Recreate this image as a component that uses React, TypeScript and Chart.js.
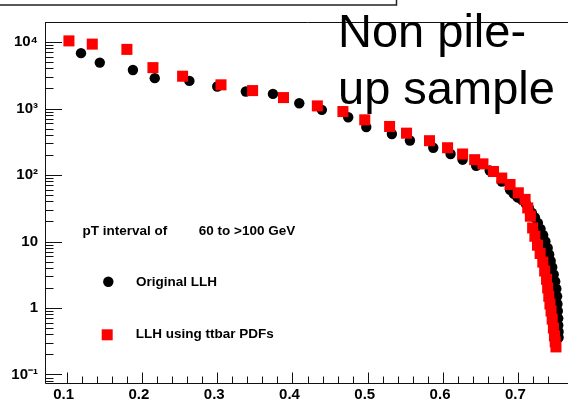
import { useEffect, useRef } from 'react';
import { Chart, registerables } from 'chart.js';

Chart.register(...registerables);

// ---- Data ----
const originalX = [
  0.119, 0.144, 0.188, 0.217, 0.263, 0.300, 0.338, 0.374, 0.409, 0.439,
  0.474, 0.498, 0.532, 0.556, 0.587, 0.610, 0.626, 0.644, 0.662, 0.678,
  0.689, 0.694, 0.699, 0.705, 0.710, 0.714, 0.718, 0.722, 0.726, 0.7295,
  0.733, 0.736, 0.739, 0.741, 0.743, 0.745, 0.747, 0.749, 0.7505, 0.7515,
  0.752, 0.7525, 0.753, 0.753, 0.7535, 0.7535,
];
const originalY = [
  6800, 4900, 3800, 2860, 2600, 2140, 1800, 1660, 1200, 955,
  740, 525, 413, 330, 257, 207, 170, 138, 117, 80,
  60, 52, 46, 42, 37, 32, 27, 23, 19, 15.5,
  12.5, 10, 8, 6.4, 5.1, 4.1, 3.2, 2.5, 1.95, 1.5,
  1.15, 0.9, 0.7, 0.55, 0.44, 0.36,
];

const ttbarX = [
  0.103, 0.134, 0.180, 0.2146, 0.254, 0.305, 0.347, 0.388, 0.433, 0.467,
  0.496, 0.529, 0.5515, 0.582, 0.606, 0.626, 0.642, 0.653, 0.667, 0.678,
  0.689, 0.700, 0.709, 0.7125, 0.716, 0.719, 0.722, 0.7255, 0.729, 0.7325,
  0.735, 0.7375, 0.739, 0.7405, 0.742, 0.7435, 0.745, 0.7466, 0.748, 0.749,
  0.750,
];
const ttbarY = [
  10400, 9300, 7750, 4120, 3060, 2270, 1860, 1460, 1095, 900,
  676, 537, 426, 328, 257, 207, 170, 147, 113, 90,
  72, 54, 43, 32, 24, 16, 12, 8.8, 6.6, 4.9,
  3.6, 2.7, 2.0, 1.5, 1.15, 0.9, 0.68, 0.5, 0.38, 0.31,
  0.26,
];

const xMajorValues = [0.1, 0.2, 0.3, 0.4, 0.5, 0.6, 0.7];
const xTickLabels = ['0.1', '0.2', '0.3', '0.4', '0.5', '0.6', '0.7'];
const yDecadeValues = [0.1, 1, 10, 100, 1000, 10000];
const yTickLabels = ['10\u207B\u00B9', '1', '10', '10\u00B2', '10\u00B3', '10\u2074'];

const seriesNames = ['Original LLH', 'LLH using ttbar PDFs'];
const intervalLabel = 'pT interval of';
const intervalValue = '60 to >100 GeV';
const sampleLines = ['Non pile-', 'up sample'];

const FONT = "'Liberation Sans', Arial, Helvetica, sans-serif";

const rootDecor = {
  id: 'rootDecor',
  afterDraw(chart: any) {
    const ctx = chart.ctx as CanvasRenderingContext2D;
    const { left, right, top, bottom } = chart.chartArea;
    const xs = chart.scales.x;
    const ys = chart.scales.y;
    ctx.save();
    ctx.strokeStyle = '#111';
    ctx.lineWidth = 1;
    // frame
    ctx.beginPath();
    ctx.moveTo(right + 1, top + 0.5);
    ctx.lineTo(left + 0.5, top + 0.5);
    ctx.lineTo(left + 0.5, bottom + 0.5);
    ctx.lineTo(right + 1, bottom + 0.5);
    ctx.stroke();
    // y ticks (inside)
    ctx.beginPath();
    for (const t of ys.ticks) {
      const v = t.value;
      if (!(v > 0)) continue;
      const e = Math.floor(Math.log10(v) + 1e-9);
      const m = v / Math.pow(10, e);
      const mr = Math.round(m);
      if (Math.abs(m - mr) > 1e-6 || mr < 1 || mr > 9) continue;
      const py = ys.getPixelForValue(v);
      if (py < top - 0.5 || py > bottom + 0.5) continue;
      const yy = Math.round(py) + 0.5;
      const len = mr === 1 ? 17 : 8.5;
      ctx.moveTo(left, yy);
      ctx.lineTo(left + len, yy);
    }
    // x ticks (inside)
    for (const t of xs.ticks) {
      const v = t.value;
      const q = v * 50;
      if (Math.abs(q - Math.round(q)) > 1e-6) continue;
      const major = Math.abs(v * 10 - Math.round(v * 10)) < 1e-6;
      const px = xs.getPixelForValue(v);
      if (px < left - 0.5 || px > right + 0.5) continue;
      const xx = Math.round(px) + 0.5;
      ctx.moveTo(xx, bottom);
      ctx.lineTo(xx, bottom - (major ? 10.5 : 6.5));
    }
    ctx.stroke();

    // partial title box at the very top
    ctx.lineWidth = 1.5;
    ctx.strokeStyle = '#222';
    ctx.beginPath();
    ctx.moveTo(0, 5);
    ctx.lineTo(396.5, 5);
    ctx.lineTo(396.5, 0);
    ctx.stroke();

    // legend-like annotations
    ctx.fillStyle = '#000';
    ctx.textBaseline = 'alphabetic';
    ctx.font = `bold 13.5px ${FONT}`;
    ctx.fillText(intervalLabel, 82.5, 234.5);
    ctx.fillText(intervalValue, 198.8, 234.5);
    ctx.beginPath();
    ctx.arc(108.3, 281.7, 5.2, 0, Math.PI * 2);
    ctx.fill();
    ctx.fillText(seriesNames[0], 136, 286);
    ctx.fillStyle = '#ff0000';
    ctx.fillRect(101.7, 329.3, 11, 11);
    ctx.fillStyle = '#000';
    ctx.fillText(seriesNames[1], 135.7, 338.3);

    // big overlay text
    ctx.font = `47px ${FONT}`;
    ctx.fillText(sampleLines[0], 338, 47);
    ctx.fillText(sampleLines[1], 338, 104);
    ctx.restore();
  },
};

function xLabel(value: number): string {
  for (let i = 0; i < xMajorValues.length; i++) {
    if (Math.abs(value - xMajorValues[i]) < 1e-6) return xTickLabels[i];
  }
  return '';
}

function yLabel(value: number): string {
  for (let i = 0; i < yDecadeValues.length; i++) {
    if (Math.abs(value - yDecadeValues[i]) / yDecadeValues[i] < 1e-6) return yTickLabels[i];
  }
  return '';
}

export default function App() {
  const ref = useRef<HTMLCanvasElement | null>(null);

  useEffect(() => {
    if (!ref.current) return;
    const chart = new Chart(ref.current, {
      type: 'scatter',
      data: {
        datasets: [
          {
            label: seriesNames[1],
            data: ttbarX.map((x, i) => ({ x, y: ttbarY[i] })),
            pointStyle: 'rect',
            pointRadius: 7.8,
            pointHoverRadius: 7.8,
            backgroundColor: '#ff0000',
            borderWidth: 0,
            showLine: false,
            order: 0,
          },
          {
            label: seriesNames[0],
            data: originalX.map((x, i) => ({ x, y: originalY[i] })),
            pointStyle: 'circle',
            pointRadius: 5.2,
            pointHoverRadius: 5.2,
            backgroundColor: '#000000',
            borderWidth: 0,
            showLine: false,
            order: 1,
          },
        ],
      },
      options: {
        animation: false,
        responsive: false,
        devicePixelRatio: 1,
        events: [],
        layout: { autoPadding: false, padding: { top: 22, left: 0, right: 0, bottom: 0 } },
        plugins: {
          legend: { display: false },
          tooltip: { enabled: false },
          title: { display: false },
        },
        scales: {
          x: {
            type: 'linear',
            min: 0.0712,
            max: 0.766,
            border: { display: false },
            grid: { display: false, drawTicks: false },
            afterFit: (s: any) => {
              s.height = 34;
              s.paddingLeft = 0;
              s.paddingRight = 0;
            },
            ticks: {
              stepSize: 0.02,
              maxTicksLimit: 200,
              autoSkip: false,
              maxRotation: 0,
              minRotation: 0,
              padding: 3,
              labelOffset: -3,
              color: '#000',
              font: { family: FONT, size: 15, weight: 'bold' },
              callback: (v: any) => xLabel(Number(v)),
            },
          },
          y: {
            type: 'logarithmic',
            min: 0.0745,
            max: 20000,
            border: { display: false },
            grid: { display: false, drawTicks: false },
            afterFit: (s: any) => {
              s.width = 45;
              s.paddingTop = 0;
              s.paddingBottom = 0;
            },
            ticks: {
              autoSkip: false,
              padding: 7,
              color: '#000',
              font: { family: FONT, size: 15, weight: 'bold' },
              callback: (v: any) => yLabel(Number(v)),
            },
          },
        },
      },
      plugins: [rootDecor],
    } as any);
    return () => chart.destroy();
  }, []);

  return (
    <div style={{ position: 'absolute', left: 0, top: 0, width: 568, height: 417, background: '#fff' }}>
      <canvas ref={ref} width={568} height={417} style={{ display: 'block', width: 568, height: 417 }} />
    </div>
  );
}
